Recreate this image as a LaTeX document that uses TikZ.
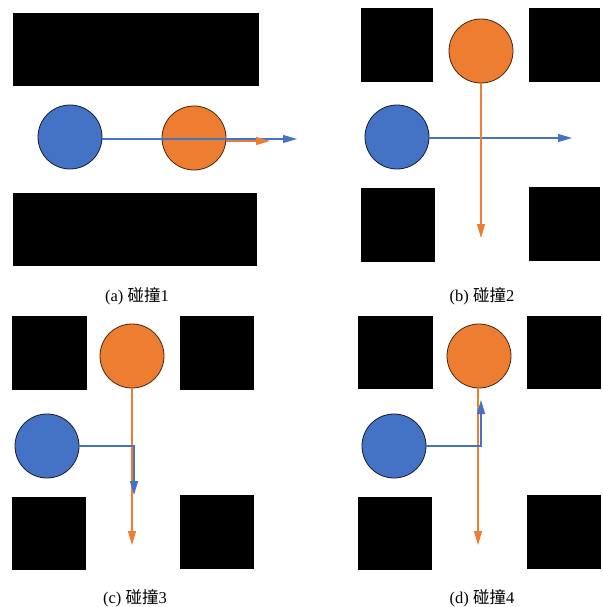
\documentclass[tikz,border=0pt]{standalone}
\usepackage{fontspec}
\setmainfont{Liberation Serif}
\newfontfamily\cjk{Noto Sans CJK SC}
\usetikzlibrary{arrows.meta}
\definecolor{ballblue}{HTML}{4472C4}
\definecolor{ballorange}{HTML}{ED7D31}
\tikzset{
  wall/.style={fill=black, draw=none},
  blueball/.style={circle, fill=ballblue, draw=black!75!ballblue, line width=0.8pt, minimum size=64pt, inner sep=0pt},
  orangeball/.style={circle, fill=ballorange, draw=black!70!ballorange, line width=0.8pt, minimum size=64pt, inner sep=0pt},
  bluepath/.style={draw=ballblue, line width=1.2pt, -{Triangle[length=14pt,width=8pt]}},
  orangepath/.style={draw=ballorange, line width=1.2pt, -{Triangle[length=14pt,width=8pt]}},
  caption/.style={font=\fontsize{16.5pt}{19pt}\selectfont, inner sep=0pt}
}
\begin{document}
\begin{tikzpicture}[x=1pt,y=-1pt]
\useasboundingbox (0,0) rectangle (602,607);

% (a) corridor between two long walls
\fill[wall] (13,13) rectangle (259,86);
\fill[wall] (13,193) rectangle (257,266);
\node[blueball] (a1) at (70,137) {};
\node[orangeball] (a2) at (194,138) {};
\coordinate (a1end) at (297,139);
\coordinate (a2end) at (270,141);
\draw[bluepath] (a1.east |- a1end) -- (a1end);
\draw[orangepath] (a2.east |- a2end) -- (a2end);
\node[caption] (capa) at (137,296) {(a) {\cjk 碰撞}1};

% (b) crossing
\fill[wall] (361,8) rectangle (433,82);
\fill[wall] (529,8) rectangle (600,82);
\fill[wall] (361,188) rectangle (435,262);
\fill[wall] (529,187) rectangle (600,261);
\node[orangeball] (b2) at (481,51) {};
\node[blueball] (b1) at (397,137) {};
\coordinate (b1end) at (572,138);
\coordinate (b2end) at (481,238);
\draw[bluepath] (b1.east |- b1end) -- (b1end);
\draw[orangepath] (b2.south) -- (b2end);
\node[caption] (capb) at (482,296) {(b) {\cjk 碰撞}2};

% (c) blue turns down
\fill[wall] (12,316) rectangle (87,390);
\fill[wall] (180,316) rectangle (254,390);
\fill[wall] (12,497) rectangle (86,570);
\fill[wall] (180,495) rectangle (254,569);
\node[orangeball] (c2) at (132,356) {};
\node[blueball] (c1) at (47,446) {};
\coordinate (c1turn) at (134,446);
\coordinate (c1end) at (134,495);
\coordinate (c2end) at (132,545);
\draw[orangepath] (c2.south) -- (c2end);
\draw[bluepath] (c1.east) -- (c1turn) -- (c1end);
\node[caption] (capc) at (135,598) {(c) {\cjk 碰撞}3};

% (d) blue turns up
\fill[wall] (358,316) rectangle (433,389);
\fill[wall] (527,316) rectangle (601,389);
\fill[wall] (358,497) rectangle (432,570);
\fill[wall] (527,495) rectangle (601,569);
\node[orangeball] (d2) at (479,356) {};
\node[blueball] (d1) at (394,446) {};
\coordinate (d1turn) at (481,446);
\coordinate (d1end) at (481,400);
\coordinate (d2end) at (478,545);
\draw[orangepath] (d2.south -| d2end) -- (d2end);
\draw[bluepath] (d1.east) -- (d1turn) -- (d1end);
\node[caption] (capd) at (482,598) {(d) {\cjk 碰撞}4};
\end{tikzpicture}
\end{document}
